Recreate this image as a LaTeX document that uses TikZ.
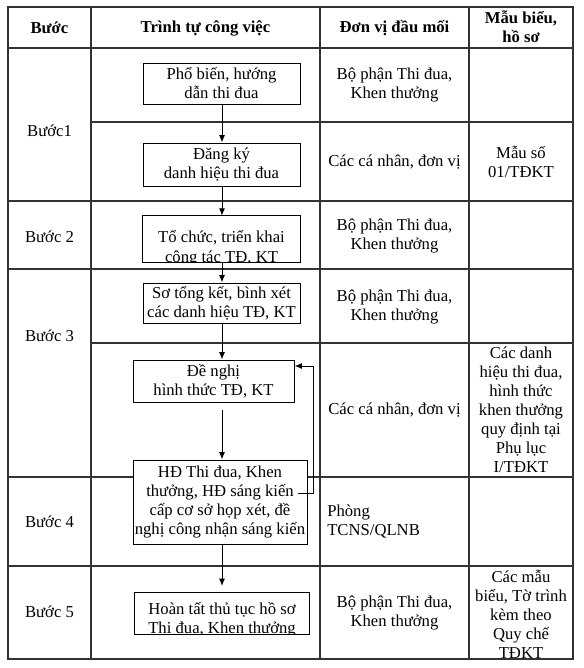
\documentclass[tikz,border=0pt]{standalone}
\usepackage{fontspec}
\setmainfont{Liberation Serif}
\usetikzlibrary{arrows.meta}
\begin{document}
\begin{tikzpicture}[x=0.75pt,y=-0.75pt,
  every node/.style={font=\fontsize{12.5}{14.25}\selectfont, inner sep=0pt, align=center},
  grid/.style={line width=0.8pt, draw=black!80},
  box/.style={draw=black, line width=0.75pt, fill=white, inner sep=0pt},
  plainbox/.style={fill=white, inner sep=0pt},
  boxline/.style={draw=black, line width=0.75pt},
  arr/.style={draw=black, line width=0.75pt, -{Latex[length=5.5pt,width=4.5pt]}},
  hdr/.style={font=\fontsize{12.5}{14.25}\selectfont\bfseries}]
\useasboundingbox (0,0) rectangle (583,668);
\fill[white] (0,0) rectangle (583,668);
% table
\draw[grid] (8,7) rectangle (573,659);
\draw[grid] (91,7) -- (91,659);
\draw[grid] (320,7) -- (320,659);
\draw[grid] (469,7) -- (469,659);
\foreach \yy in {48,201,269,477,566} \draw[grid] (8,\yy) -- (573,\yy);
\foreach \yy in {122,343} \draw[grid] (91,\yy) -- (573,\yy);
% header
\node[hdr] (h1) at (49.5,28) {Bước};
\node[hdr] (h2) at (205.5,28) {Trình tự công việc};
\node[hdr] (h3) at (394.5,28) {Đơn vị đầu mối};
\node[hdr] (h4) at (521,27) {Mẫu biểu,\\hồ sơ};
% steps
\node (s1) at (49.5,131) {Bước1};
\node (s2) at (49.5,237) {Bước 2};
\node (s3) at (49.5,336) {Bước 3};
\node (s4) at (49.5,522) {Bước 4};
\node (s5) at (49.5,612) {Bước 5};
% units
\node (u1) at (394.5,85) {Bộ phận Thi đua,\\Khen thưởng};
\node (u2) at (394.5,162) {Các cá nhân, đơn vị};
\node (u3) at (394.5,236) {Bộ phận Thi đua,\\Khen thưởng};
\node (u4) at (394.5,307) {Bộ phận Thi đua,\\Khen thưởng};
\node (u5) at (394.5,410) {Các cá nhân, đơn vị};
\node[anchor=west, align=left] (u6) at (327,522) {Phòng\\TCNS/QLNB};
\node (u7) at (394.5,613) {Bộ phận Thi đua,\\Khen thưởng};
% forms
\node (f1) at (521,162) {Mẫu số\\01/TĐKT};
\node (f2) at (521,410) {Các danh\\hiệu thi đua,\\hình thức\\khen thưởng\\quy định tại\\Phụ lục\\I/TĐKT};
\node (f3) at (521,614) {Các mẫu\\biểu, Tờ trình\\kèm theo\\Quy chế\\TĐKT};
% boxes
\node[box, minimum width={157*0.75pt}, minimum height={41*0.75pt}] (b1) at (221.5,83.5) {Phổ biến, hướng\\dẫn thi đua};
\node[box, minimum width={157*0.75pt}, minimum height={43*0.75pt}] (b2) at (221.5,164.5) {Đăng ký\\danh hiệu thi đua};
\node[plainbox, minimum width={157*0.75pt}, minimum height={46*0.75pt}] (b3) at (221.5,239) {};
\begin{scope}
\clip (b3.south west) rectangle (b3.north east);
\node[anchor=base] (b3t1) at (221.5,242.5) {Tổ chức, triển khai};
\node[anchor=base] (b3t2) at (221.5,262) {công tác TĐ, KT};
\end{scope}
\draw[boxline] (b3.south west) rectangle (b3.north east);
\node[box, minimum width={157*0.75pt}, minimum height={40*0.75pt}] (b4) at (221.5,303) {Sơ tổng kết, bình xét\\các danh hiệu TĐ, KT};
\node[box, minimum width={161*0.75pt}, minimum height={42*0.75pt}] (b5) at (213.5,381) {Đề nghị\\hình thức TĐ, KT};
\node[box, minimum width={174*0.75pt}, minimum height={84*0.75pt}] (b6) at (220,502) {HĐ Thi đua, Khen\\thưởng, HĐ sáng kiến\\cấp cơ sở họp xét, đề\\nghị công nhận sáng kiến};
\node[plainbox, minimum width={174*0.75pt}, minimum height={41*0.75pt}] (b7) at (222,613.5) {};
\begin{scope}
\clip (b7.south west) rectangle (b7.north east);
\node[anchor=base] (b7t1) at (222,614.5) {Hoàn tất thủ tục hồ sơ};
\node[anchor=base] (b7t2) at (222,633.5) {Thi đua, Khen thưởng};
\end{scope}
\draw[boxline] (b7.south west) rectangle (b7.north east);
% arrows
\coordinate (ax) at (222,0);
\draw[arr] (b1.south -| ax) -- (b2.north -| ax);
\draw[arr] (b2.south -| ax) -- (b3.north -| ax);
\draw[arr] (b3.south -| ax) -- (b4.north -| ax);
\draw[arr] (b4.south -| ax) -- (b5.north -| ax);
\coordinate (a5) at (222,410);
\draw[arr] (a5) -- (b6.north -| ax);
\coordinate (a7) at (222,586);
\draw[arr] (b6.south -| ax) -- (a7);
% feedback
\coordinate (fb0) at (298,493);
\coordinate (fb1) at (313,493);
\coordinate (fb2) at (313,366);
\draw[arr] (fb0) -- (fb1) -- (fb2) -- (b5.east |- fb2);
\end{tikzpicture}
\end{document}
